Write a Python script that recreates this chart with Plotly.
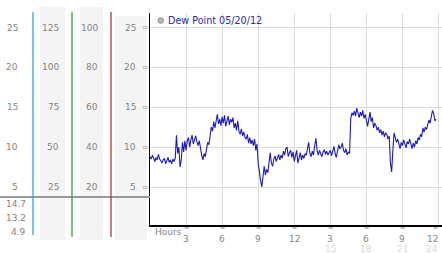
import plotly.graph_objects as go

W, H = 442, 253

# Dew point readings (deg C), every 0.1 hour from 0:00
dew_point = [
    8.8, 8.5, 9.0, 8.6, 8.2, 8.7, 8.4, 9.1, 8.5, 8.3,
    8.0, 8.4, 8.6, 7.9, 8.3, 8.7, 8.1, 8.4, 7.9, 8.5,
    8.2, 8.6, 11.5, 9.2, 10.0, 7.5, 8.4, 10.6, 9.4, 10.8,
    9.6, 10.8, 11.2, 10.0, 10.9, 11.5, 10.4, 11.0, 11.4, 10.7,
    10.2, 10.8, 9.5, 9.0, 8.4, 9.2, 8.8, 10.0, 10.6, 10.3,
    11.8, 12.5, 12.0, 13.2, 12.4, 13.6, 14.1, 12.9, 13.5, 12.7,
    13.8, 13.0, 14.0, 12.6, 13.4, 13.9, 12.8, 13.5, 13.1, 13.7,
    12.4, 13.0, 12.1, 13.3, 12.0, 11.6, 12.3, 11.4, 11.9, 11.2,
    11.0, 11.6, 10.5, 11.2, 10.4, 10.9, 10.2, 11.0, 9.6, 10.4,
    8.0, 6.6, 5.8, 5.0, 6.2, 7.6, 6.5, 7.2, 6.8, 7.9,
    9.3, 8.0, 7.6, 8.5, 8.9, 8.2, 8.6, 9.1, 8.4, 9.0,
    8.6, 9.5, 9.0, 9.8, 10.0, 8.8, 9.3, 9.6, 8.7, 9.4,
    8.2, 9.1, 9.6, 8.0, 8.8, 9.3, 8.4, 9.0, 8.6, 9.2,
    9.0, 9.7, 10.6, 9.2, 8.8, 9.5, 9.0, 10.2, 11.1, 9.6,
    9.0, 9.6, 9.3, 8.8, 9.4, 9.7, 9.1, 9.5, 9.0, 9.3,
    9.6, 8.9, 9.4, 10.1, 9.2, 8.7, 9.5, 10.3, 9.8, 10.0,
    10.5, 9.6, 9.3, 9.8, 9.0, 9.4, 9.2, 13.6, 14.3, 14.0,
    14.5, 13.9, 14.9, 14.2, 13.7, 14.4, 13.9, 14.6, 13.6, 14.1,
    13.4, 12.6, 13.5, 14.4, 13.2, 13.7, 12.4, 13.0, 12.7, 12.1,
    12.5, 11.8, 12.2, 11.5, 12.0, 11.3, 11.8, 11.6, 11.0, 11.4,
    8.0, 6.9, 9.5, 11.8, 11.2, 10.6, 11.0, 10.3, 9.8, 10.6,
    10.2, 10.9, 10.5, 9.9, 10.7, 10.4, 11.0, 10.2, 9.8, 10.5,
    10.0, 10.8, 10.4, 11.2, 10.9, 11.6, 11.3, 12.4, 11.9, 12.5,
    12.2, 12.8, 13.4, 13.0, 14.0, 14.6, 14.2, 13.3, 13.5,
]
hours = [round(i * 0.1, 1) for i in range(len(dew_point))]

series_name = "Dew Point 05/20/12"
y_ticks = [5, 10, 15, 20, 25]
col1_labels = ["5", "10", "15", "20", "25"]
col2_labels = ["25", "50", "75", "100", "125"]
col3_labels = ["20", "40", "60", "80", "100"]
col4_labels = ["5", "10", "15", "20", "25"]
stats_labels = ["14.7", "13.2", "4.9"]
x_ticks = [3, 6, 9, 12, 15, 18, 21, 24]
x_labels_top = ["3", "6", "9", "12", "3", "6", "9", "12"]
x_labels_bottom = ["", "", "", "", "15", "18", "21", "24"]


def px(x):
    return x / W


def py(y):
    return 1 - y / H


FONT = "DejaVu Sans"
GREY = "#858585"
MARK = dict(family=FONT, size=8, color="#9a9a9a")
XMARK = dict(family=FONT, size=6.5, color="#9a9a9a")

fig = go.Figure()
fig.add_trace(go.Scatter(x=hours, y=dew_point, mode="lines",
                         line=dict(color="#1c1cb4", width=1.1),
                         showlegend=False, hoverinfo="skip"))

shapes = []
# grey column backgrounds
for x0, x1, y0 in [(40, 65, 7), (80, 103, 7), (115, 147, 16)]:
    shapes.append(dict(type="rect", xref="paper", yref="paper",
                       x0=px(x0), x1=px(x1), y0=py(240), y1=py(y0),
                       fillcolor="#f4f4f4", line=dict(width=0), layer="below"))
# separator
shapes.append(dict(type="line", xref="paper", yref="paper",
                   x0=0, x1=px(150), y0=py(197), y1=py(197),
                   line=dict(color="#9a9a9a", width=2)))
# colored scale lines
for x, col, yb in [(33, "#3aa6cc", 235), (72, "#3a9e3a", 237), (111, "#b03a3a", 237)]:
    shapes.append(dict(type="line", xref="paper", yref="paper",
                       x0=px(x), x1=px(x), y0=py(12), y1=py(yb),
                       line=dict(color=col, width=1.3)))
# legend circle
shapes.append(dict(type="circle", xref="paper", yref="paper",
                   x0=px(158), x1=px(163.5), y0=py(23.3), y1=py(17.8),
                   fillcolor="#b8b8b8", line=dict(color="#8a8a8a", width=1)))

ann = []
small = dict(family=FONT, size=9, color=GREY)
for i, v in enumerate(y_ticks):
    for xr, labs in [(20, col1_labels), (60.5, col2_labels), (99.5, col3_labels), (137.5, col4_labels)]:
        ann.append(dict(x=px(xr), y=v, xref="paper", yref="y", text=labs[i],
                        showarrow=False, xanchor="right", yanchor="middle",
                        font=small))
    ann.append(dict(x=px(145), y=v, xref="paper", yref="y", text="≈",
                    showarrow=False, xanchor="center", yanchor="middle", font=MARK))
for lab, y in zip(stats_labels, [204, 218, 232]):
    ann.append(dict(x=px(27.5), y=py(y), xref="paper", yref="paper", text=lab,
                    showarrow=False, xanchor="right", yanchor="middle", font=small))
for i, v in enumerate(x_ticks):
    anchor = "right" if v == 24 else "center"
    xv = v + 0.05 if v == 24 else v
    ann.append(dict(x=xv, y=py(227.5), xref="x", yref="paper", text="≈",
                    showarrow=False, xanchor=anchor, yanchor="middle", font=XMARK,
                    borderpad=0))
    ann.append(dict(x=xv, y=py(238.5), xref="x", yref="paper", text=x_labels_top[i],
                    showarrow=False, xanchor=anchor, yanchor="middle", font=small,
                    borderpad=0))
    if x_labels_bottom[i]:
        ann.append(dict(x=xv, y=py(249), xref="x", yref="paper", text=x_labels_bottom[i],
                        showarrow=False, xanchor=anchor, yanchor="middle",
                        font=dict(family=FONT, size=9, color="#dadada"), borderpad=0))
ann.append(dict(x=px(153), y=py(232), xref="paper", yref="paper", text="Hours",
                showarrow=False, xanchor="left", yanchor="middle", font=small))
ann.append(dict(x=px(165.5), y=py(20.5), xref="paper", yref="paper", text=series_name,
                showarrow=False, xanchor="left", yanchor="middle",
                font=dict(family=FONT, size=9.6, color="#2a2aa8")))

fig.update_layout(
    width=W, height=H, margin=dict(l=0, r=0, t=0, b=0),
    paper_bgcolor="white", plot_bgcolor="white",
    shapes=shapes, annotations=ann,
    xaxis=dict(domain=[px(150), 1], range=[0, 24.29], tickvals=x_ticks,
               showticklabels=False, ticks="", showgrid=True, gridcolor="#dcdcdc",
               gridwidth=1, zeroline=False, showline=True, linecolor="black",
               linewidth=2, fixedrange=True),
    yaxis=dict(domain=[py(225), py(13)], range=[0.235, 26.82], tickvals=y_ticks,
               showticklabels=False, ticks="", showgrid=True, gridcolor="#dcdcdc",
               gridwidth=1, zeroline=False, showline=True, linecolor="black",
               linewidth=1.3, fixedrange=True),
)

fig.write_html("out.html")
